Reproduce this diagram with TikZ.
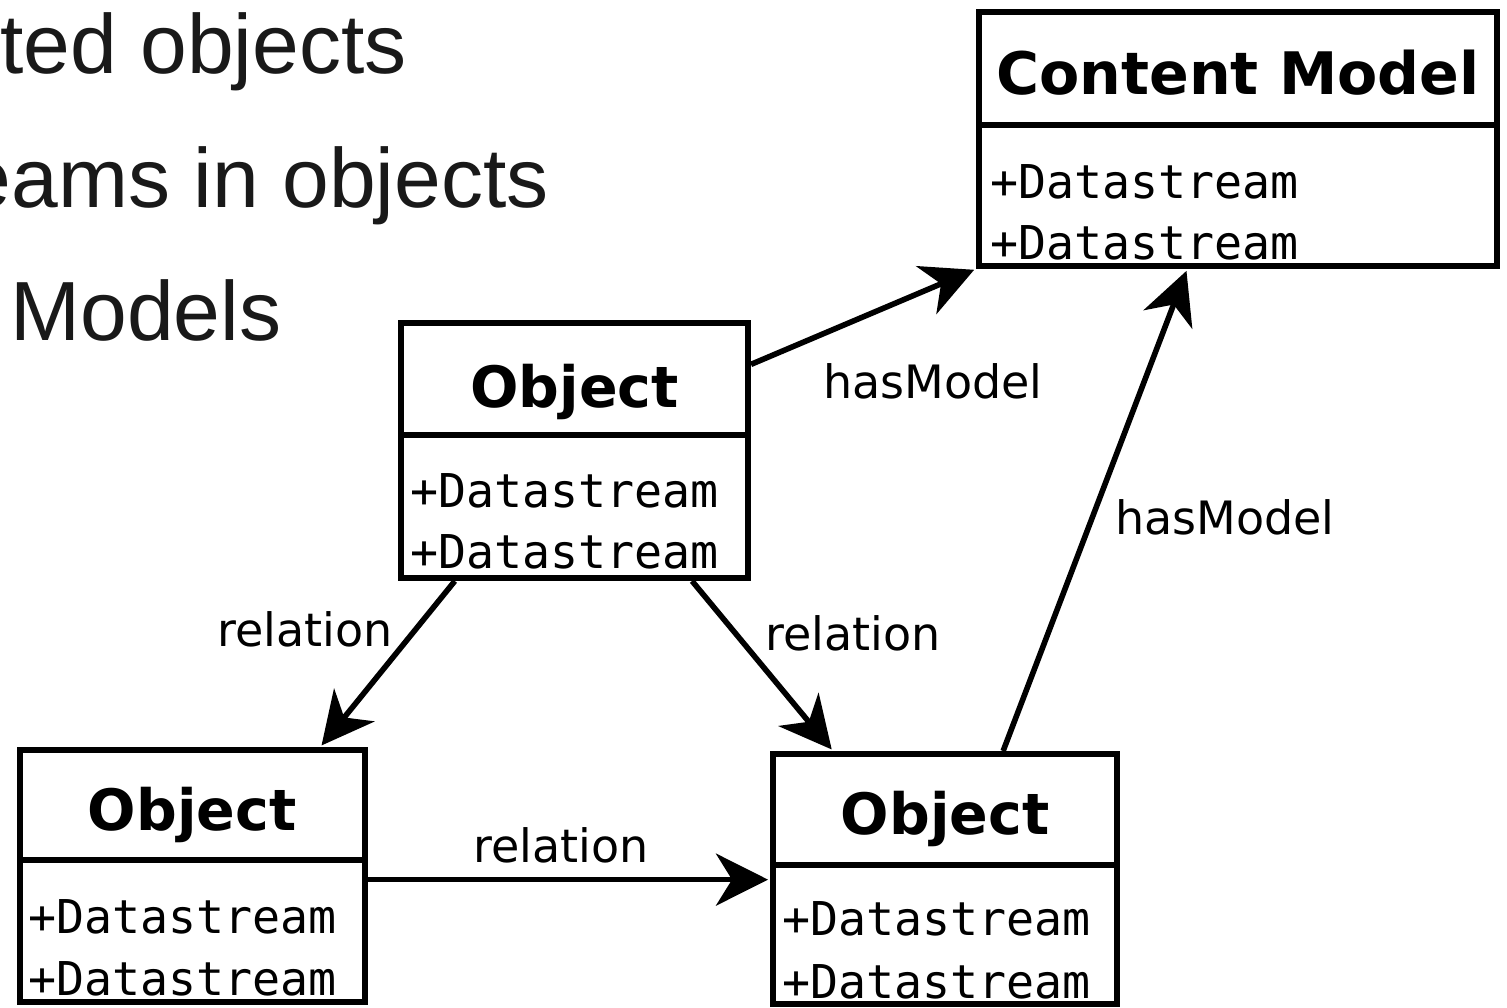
\documentclass[tikz,border=0pt]{standalone}
\usepackage{fontspec}
\usetikzlibrary{arrows.meta,fit,calc}
\newfontfamily\slidefont{Liberation Sans}
\newfontfamily\classfont{DejaVu Sans}
\newfontfamily\attrfont{DejaVu Sans Mono}
\newfontfamily\labelfont{DejaVu Sans}

\begin{document}
\begin{tikzpicture}[x=0.5pt,y=-0.5pt,
  classbox/.style={draw, line width=3pt, inner sep=0pt},
  divider/.style={line width=3pt},
  classtitle/.style={font=\classfont\bfseries\fontsize{28.5}{30}\selectfont, anchor=base, inner sep=0pt},
  attr/.style={font=\attrfont\fontsize{23.3}{25}\selectfont, anchor=base west, inner sep=0pt},
  rel/.style={line width=2.8pt, shorten >=1pt, -{Stealth[length=26pt,width=26pt,inset=8pt]}},
  rellabel/.style={font=\labelfont\fontsize{23}{25}\selectfont, anchor=base, inner sep=0pt},
  bullet/.style={font=\slidefont\fontsize{42}{50}\selectfont, text=black!90, inner sep=0pt}]

\useasboundingbox[fill=white] (0,0) rectangle (1507,1007);

% slide bullet text, partly cut by the left edge
\node[bullet, anchor=base east] (b1) at (407,73) {ted objects};
\node[bullet, anchor=base east] (b2) at (549,207) {eams in objects};
\node[bullet, anchor=base west] (b3) at (10,340) {Models};

% content model class
\node[classbox, fit={(979,12) (1497,266)}] (cm) {};
\draw[divider] (979,125) -- (1497,125);
\node[classtitle, font=\classfont\bfseries\fontsize{29.3}{31}\selectfont] (cmt) at (1238,94) {Content Model};
\node[attr] (cma) at (990,198) {+Datastream};
\node[attr] (cmb) at (990,259) {+Datastream};

% upper object
\node[classbox, fit={(401,323) (748,578)}] (o1) {};
\draw[divider] (401,435) -- (748,435);
\node[classtitle] (o1t) at (574.5,407) {Object};
\node[attr] (o1a) at (410,507) {+Datastream};
\node[attr] (o1b) at (410,568) {+Datastream};

% lower left object
\node[classbox, fit={(20,750) (365,1002)}] (o2) {};
\draw[divider] (20,860) -- (365,860);
\node[classtitle] (o2t) at (192,830) {Object};
\node[attr] (o2a) at (28,933) {+Datastream};
\node[attr] (o2b) at (28,995) {+Datastream};

% lower right object
\node[classbox, fit={(773,754) (1117,1004)}] (o3) {};
\draw[divider] (773,865) -- (1117,865);
\node[classtitle] (o3t) at (945,834) {Object};
\node[attr] (o3a) at (782,935) {+Datastream};
\node[attr] (o3b) at (782,998) {+Datastream};

% relations
\draw[rel] ($(o1.north east)!0.17!(o1.south east)$) -- (cm.south west);
\draw[rel] ($(o3.north west)!0.666!(o3.north east)$) -- ($(cm.south west)!0.403!(cm.south east)$);
\draw[rel] ($(o1.south west)!0.161!(o1.south east)$) -- ($(o2.north west)!0.864!(o2.north east)$);
\draw[rel] ($(o1.south west)!0.833!(o1.south east)$) -- ($(o3.north west)!0.18!(o3.north east)$);
\coordinate (r5) at ($(o2.north east)!0.514!(o2.south east)$);
\draw[rel] (r5) -- (r5 -| o3.west);

% relation labels
\node[rellabel] (l1) at (933,398) {hasModel};
\node[rellabel] (l2) at (1225,534) {hasModel};
\node[rellabel] (l3) at (305,646) {relation};
\node[rellabel] (l4) at (853,650) {relation};
\node[rellabel] (l5) at (561,862) {relation};
\end{tikzpicture}
\end{document}
